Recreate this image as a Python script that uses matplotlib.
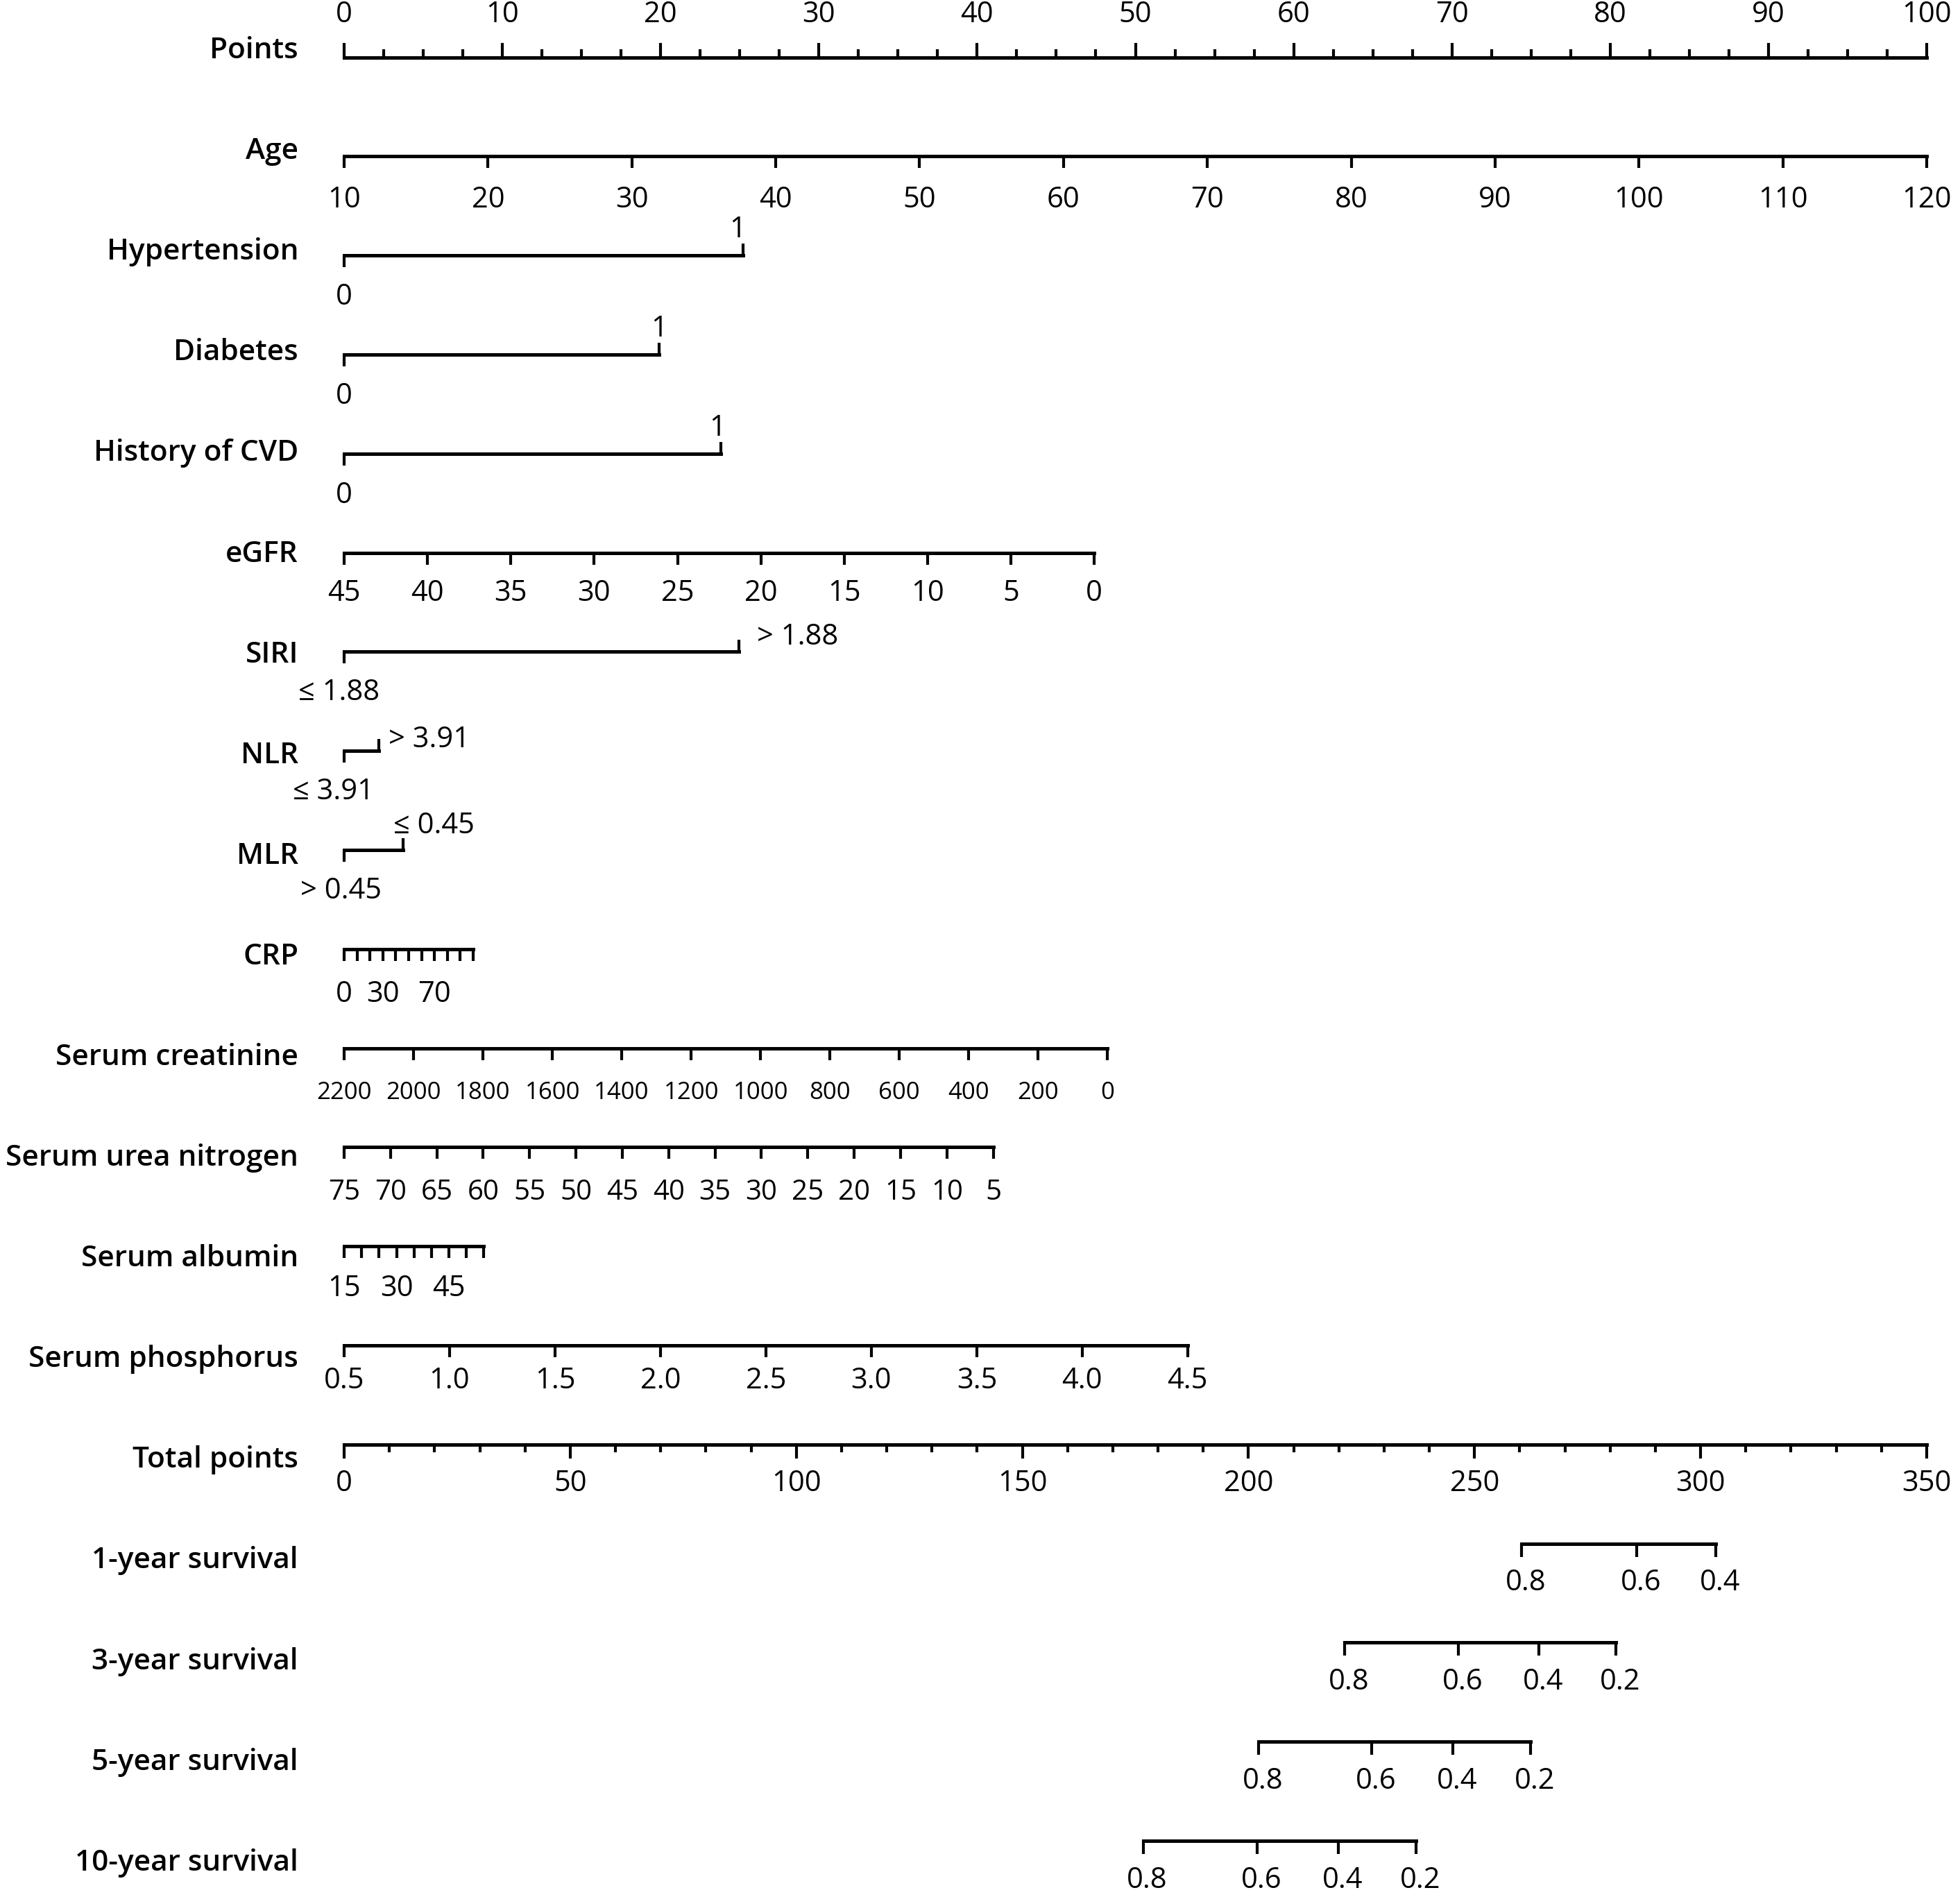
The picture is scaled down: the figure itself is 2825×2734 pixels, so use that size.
import numpy as np
import matplotlib.pyplot as plt

plt.rcParams['font.family'] = ['Open Sans', 'DejaVu Sans']

# ------------------------------
# Nomogram data
# ------------------------------
points_labels = [0, 10, 20, 30, 40, 50, 60, 70, 80, 90, 100]

age_values = [10, 20, 30, 40, 50, 60, 70, 80, 90, 100, 110, 120]
age_points = [0, 9.09, 18.18, 27.27, 36.36, 45.45, 54.55, 63.64, 72.73, 81.82, 90.91, 100]

htn_labels = ['0', '1']
htn_points = [0, 25.2]
dm_labels = ['0', '1']
dm_points = [0, 19.9]
cvd_labels = ['0', '1']
cvd_points = [0, 23.8]

egfr_values = [45, 40, 35, 30, 25, 20, 15, 10, 5, 0]
egfr_points = [0, 5.27, 10.53, 15.8, 21.07, 26.33, 31.6, 36.87, 42.13, 47.4]

siri_labels = ['≤ 1.88', '> 1.88']
siri_points = [0, 24.93]
nlr_labels = ['≤ 3.91', '> 3.91']
nlr_points = [0, 2.21]
mlr_labels = ['> 0.45', '≤ 0.45']
mlr_points = [0, 3.74]

crp_values = [0, 10, 20, 30, 40, 50, 60, 70, 80, 90, 100]
crp_points = [0, 0.82, 1.63, 2.45, 3.26, 4.08, 4.89, 5.71, 6.52, 7.34, 8.15]
crp_shown = [0, 30, 70]

creat_values = [2200, 2000, 1800, 1600, 1400, 1200, 1000, 800, 600, 400, 200, 0]
creat_points = [0, 4.39, 8.77, 13.16, 17.54, 21.93, 26.31, 30.7, 35.08, 39.47, 43.85, 48.24]

urea_values = [75, 70, 65, 60, 55, 50, 45, 40, 35, 30, 25, 20, 15, 10, 5]
urea_points = [0, 2.93, 5.86, 8.79, 11.72, 14.65, 17.58, 20.51, 23.44, 26.37,
               29.3, 32.23, 35.16, 38.09, 41.02]

alb_values = [15, 20, 25, 30, 35, 40, 45, 50, 55]
alb_points = [0, 1.1, 2.21, 3.31, 4.42, 5.52, 6.62, 7.73, 8.83]
alb_shown = [15, 30, 45]

phos_values = ['0.5', '1.0', '1.5', '2.0', '2.5', '3.0', '3.5', '4.0', '4.5']
phos_points = [0, 6.66, 13.33, 19.99, 26.65, 33.31, 39.98, 46.64, 53.3]

total_labels = [0, 50, 100, 150, 200, 250, 300, 350]
total_max = 350

surv_probs = {
    '1-year survival': ['0.8', '0.6', '0.4'],
    '3-year survival': ['0.8', '0.6', '0.4', '0.2'],
    '5-year survival': ['0.8', '0.6', '0.4', '0.2'],
    '10-year survival': ['0.8', '0.6', '0.4', '0.2'],
}
surv_total = {
    '1-year survival': [260.4, 285.9, 303.4],
    '3-year survival': [221.3, 246.4, 264.2, 281.3],
    '5-year survival': [202.2, 227.3, 245.2, 262.4],
    '10-year survival': [176.7, 202.0, 219.9, 237.1],
}

row_names = ['Points', 'Age', 'Hypertension', 'Diabetes', 'History of CVD', 'eGFR',
             'SIRI', 'NLR', 'MLR', 'CRP', 'Serum creatinine', 'Serum urea nitrogen',
             'Serum albumin', 'Serum phosphorus', 'Total points',
             '1-year survival', '3-year survival', '5-year survival', '10-year survival']

# ------------------------------
# Layout (pixel units on y, points units on x)
# ------------------------------
W, H = 2825, 2734
X0_PX, X100_PX = 496, 2777
PX = (X100_PX - X0_PX) / 100.0
LINE_Y0, LINE_DY = 82.5, 142.8
LAB_Y0, LAB_DY = 84, 145.1
LW = 3.6
TLW = 3.0
FS = 30

fig = plt.figure(figsize=(W / 100, H / 100), dpi=100)
ax = fig.add_axes([0, 0, 1, 1])
ax.set_xlim(-X0_PX / PX, (W - X0_PX) / PX)
ax.set_ylim(H, 0)
ax.axis('off')


def row_y(i):
    return LINE_Y0 + i * LINE_DY


def scale_row(i, pts, labels, shown=None, up=(), fs=FS, below=72, above=None,
              dx=None, tick_len=17):
    y = row_y(i)
    ax.plot([min(pts), max(pts)], [y, y], color='black', lw=LW,
            solid_capstyle='projecting')
    for k, (p, lab) in enumerate(zip(pts, labels)):
        if k in up:
            ax.plot([p, p], [y, y - tick_len], color='black', lw=TLW, solid_capstyle='butt')
            ty = y - (above[k] if above else 26)
        else:
            ax.plot([p, p], [y, y + tick_len], color='black', lw=TLW, solid_capstyle='butt')
            ty = y + below
        if shown is not None and lab not in shown:
            continue
        if dx is None:
            off = 0
        elif np.isscalar(dx):
            off = dx / PX
        else:
            off = dx[k] / PX
        ax.text(p + off, ty, str(lab), ha='center', va='baseline', fontsize=fs)


# Row titles
for i, name in enumerate(row_names):
    ax.text((430 - X0_PX) / PX, LAB_Y0 + i * LAB_DY, name, ha='right', va='baseline',
            fontsize=30.5, fontweight='semibold')

# Points (ticks up, labels above)
y = row_y(0)
ax.plot([0, 100], [y, y], color='black', lw=LW, solid_capstyle='projecting')
for p in np.arange(0, 100.1, 2.5):
    major = p % 10 == 0
    ax.plot([p, p], [y, y - (19 if major else 10)], color='black', lw=TLW)
for p in points_labels:
    ax.text(p, y - 50, str(p), ha='center', va='baseline', fontsize=FS)

scale_row(1, age_points, age_values, below=74)
scale_row(2, htn_points, htn_labels, up=(1,), below=71, above={1: 26}, dx=[0, -8])
scale_row(3, dm_points, dm_labels, up=(1,), below=71, above={1: 26})
scale_row(4, cvd_points, cvd_labels, up=(1,), below=71, above={1: 26}, dx=[0, -5])
scale_row(5, egfr_points, egfr_values, below=70)
scale_row(6, siri_points, siri_labels, up=(1,), below=70, above={1: 10}, dx=[-7, 85])
scale_row(7, nlr_points, nlr_labels, up=(1,), below=70, above={1: 5}, dx=[-16, 72])
scale_row(8, mlr_points, mlr_labels, up=(1,), below=70, above={1: 24}, dx=[-5, 44])
scale_row(9, crp_points, crp_values, shown=crp_shown, below=76)
scale_row(10, creat_points, creat_values, fs=25, below=73)
scale_row(11, urea_points, urea_values, fs=29, below=76)
scale_row(12, alb_points, alb_values, shown=alb_shown, below=72)
scale_row(13, phos_points, phos_values, below=62)

# Total points (ticks down, every 10)
y = row_y(14)
tp = lambda v: np.asarray(v) * 100.0 / total_max
ax.plot([0, 100], [y, y], color='black', lw=LW, solid_capstyle='projecting')
for v in range(0, total_max + 1, 10):
    ax.plot([tp(v), tp(v)], [y, y + (18 if v % 50 == 0 else 9)], color='black', lw=TLW)
for v in total_labels:
    ax.text(tp(v), y + 67, str(v), ha='center', va='baseline', fontsize=FS)

# Survival scales
for i, key in enumerate(surv_probs, start=15):
    scale_row(i, list(tp(surv_total[key])), surv_probs[key], below=68, tick_len=19, dx=6)

fig.savefig('out.png', dpi=100)
